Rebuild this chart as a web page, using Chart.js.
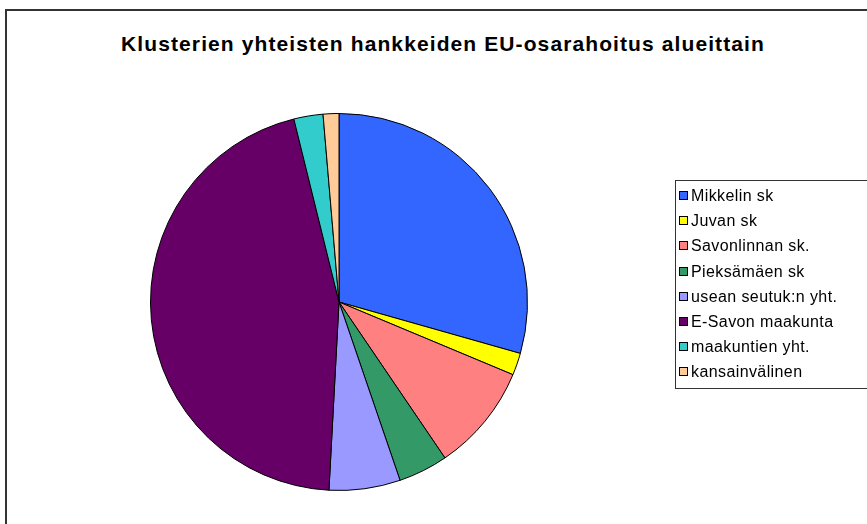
<!doctype html>
<html>

<head>
    <title>EU-osarahoitus</title>
    <script src="https://cdn.jsdelivr.net/npm/chart.js"></script>
    <style>
        body { margin: 0; background: #fff; font-family: "Liberation Sans", Arial, sans-serif; }
        #wrap { position: relative; width: 867px; height: 524px; overflow: hidden; }
        #frame { position: absolute; left: 5px; top: 9px; width: 1000px; height: 1000px; border: 2px solid #333; }
        #otsikko { position: absolute; left: 0; top: 32px; width: 886px; text-align: center; font-weight: bold; font-size: 21px; letter-spacing: 1.1px; color: #000; }
        #selite { position: absolute; left: 675px; top: 180px; width: 300px; height: 207px; border: 1px solid #333; }
        .rivi { position: absolute; left: 3px; font-size: 16px; letter-spacing: 0.4px; line-height: 18px; color: #000; white-space: nowrap; }
        .ruutu { display: inline-block; width: 7px; height: 7px; border: 1px solid #000; margin-right: 3px; vertical-align: 1px; }
        #kuva { position: absolute; left: 0; top: 0; }
    </style>
</head>

<body>
    <div id="wrap">
        <div id="frame"></div>
        <div id="otsikko"></div>
        <canvas id="kuva" width="867" height="524"></canvas>
        <div id="selite"></div>
    </div>

    <script>
        var otsikko = 'Klusterien yhteisten hankkeiden EU-osarahoitus alueittain';
        var alueet = ['Mikkelin sk', 'Juvan sk', 'Savonlinnan sk.', 'Pieksämäen sk',
            'usean seutuk:n yht.', 'E-Savon maakunta', 'maakuntien yht.', 'kansainvälinen'];
        var osuudet = [29.4, 1.9, 9.2, 4.25, 6.1, 45.3, 2.5, 1.35];
        var varit = ['#3366FF', '#FFFF00', '#FF8080', '#339966', '#9999FF', '#660066', '#33CCCC', '#FFCC99'];

        document.getElementById('otsikko').textContent = otsikko;

        // selite (legend) tehdään html:nä
        var selite = document.getElementById('selite');
        alueet.forEach(function (nimi, i) {
            var rivi = document.createElement('div');
            rivi.className = 'rivi';
            rivi.style.top = (6 + i * 25.2) + 'px';
            var ruutu = document.createElement('span');
            ruutu.className = 'ruutu';
            ruutu.style.background = varit[i];
            rivi.appendChild(ruutu);
            rivi.appendChild(document.createTextNode(nimi));
            selite.appendChild(rivi);
        });

        var kuva = new Chart(document.getElementById('kuva').getContext('2d'), {
            type: 'pie',
            data: {
                labels: alueet,
                datasets: [{
                    data: osuudet,
                    backgroundColor: varit,
                    borderColor: '#000',
                    borderWidth: 1
                }]
            },
            options: {
                responsive: false,
                animation: false,
                layout: {
                    padding: { left: 150, right: 339, top: 113, bottom: 33 }
                },
                plugins: {
                    legend: { display: false },
                    title: { display: false },
                    tooltip: { enabled: false }
                }
            }
        });
    </script>
</body>

</html>
